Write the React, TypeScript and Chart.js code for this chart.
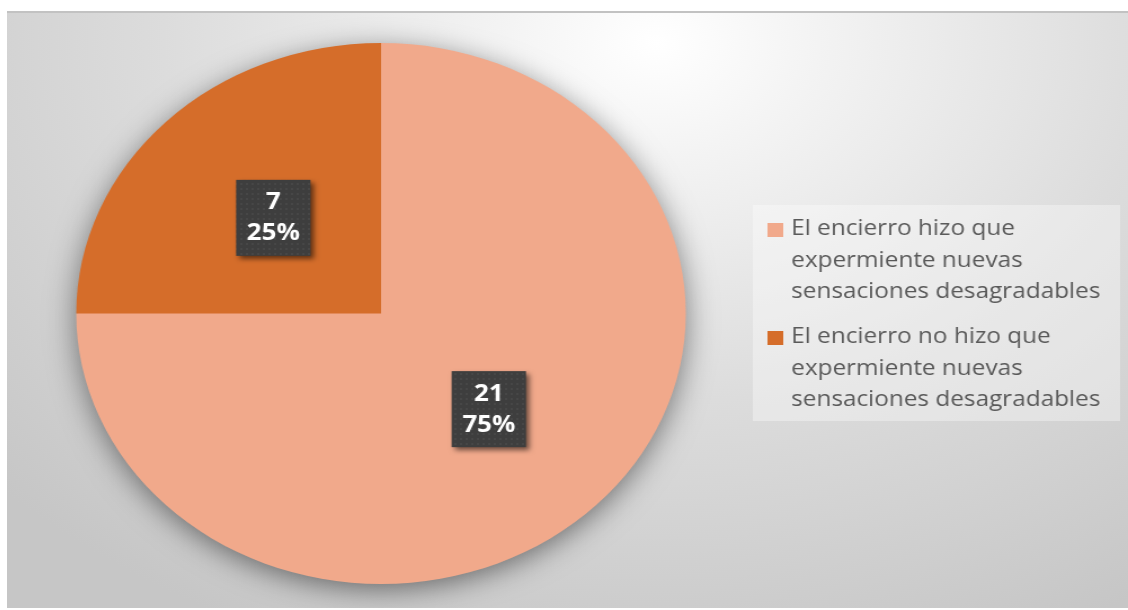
import React, { useEffect, useRef } from "react";
import { Chart, registerables } from "chart.js";
Chart.register(...registerables);

const categories: string[][] = [
  ["El encierro hizo que", "expermiente nuevas", "sensaciones desagradables"],
  ["El encierro no hizo que", "expermiente nuevas", "sensaciones desagradables"],
];
const values: number[] = [21, 7];
const sliceColors: string[] = ["#F1A98B", "#D56D2A"];

const W = 995;
const H = 597;
const OUTER_W = 1121;
const STRETCH = OUTER_W / W;

function makePattern(ctx: CanvasRenderingContext2D) {
  const c = document.createElement("canvas");
  c.width = 5;
  c.height = 5;
  const p = c.getContext("2d")!;
  p.fillStyle = "#3e3e3e";
  p.fillRect(0, 0, 5, 5);
  p.fillStyle = "#474747";
  p.fillRect(2, 2, 2, 2);
  return ctx.createPattern(c, "repeat") || "#404040";
}

const shadowPlugin = {
  id: "pieShadow",
  beforeDatasetsDraw(chart: any) {
    const arc = chart.getDatasetMeta(0).data[0];
    if (!arc) return;
    const { ctx } = chart;
    ctx.save();
    ctx.shadowColor = "rgba(0,0,0,0.5)";
    ctx.shadowBlur = 28;
    ctx.shadowOffsetY = 6;
    ctx.fillStyle = sliceColors[0];
    ctx.beginPath();
    ctx.arc(arc.x, arc.y, arc.outerRadius - 1, 0, Math.PI * 2);
    ctx.fill();
    ctx.restore();
  },
};

const labelPlugin = {
  id: "boxLabels",
  afterDatasetsDraw(chart: any) {
    const { ctx } = chart;
    const meta = chart.getDatasetMeta(0);
    const data = chart.data.datasets[0].data as number[];
    const total = data.reduce((a, b) => a + b, 0);
    const pattern = makePattern(ctx);
    meta.data.forEach((arc: any, i: number) => {
      const pos = arc.tooltipPosition();
      const bw = 66;
      const bh = 76;
      ctx.save();
      ctx.shadowColor = "rgba(0,0,0,0.55)";
      ctx.shadowBlur = 5;
      ctx.shadowOffsetX = 3;
      ctx.shadowOffsetY = 3;
      ctx.fillStyle = pattern;
      ctx.fillRect(pos.x - bw / 2, pos.y - bh / 2, bw, bh);
      ctx.restore();
      ctx.save();
      ctx.fillStyle = "#ffffff";
      ctx.font = "bold 23px 'Open Sans'";
      ctx.textAlign = "center";
      ctx.textBaseline = "middle";
      const pct = Math.round((data[i] / total) * 100) + "%";
      ctx.fillText(String(data[i]), pos.x, pos.y - 15);
      ctx.fillText(pct, pos.x, pos.y + 16);
      ctx.restore();
    });
  },
};

const legendPlugin = {
  id: "customLegend",
  afterDraw(chart: any) {
    const { ctx } = chart;
    const labels = chart.data.labels as string[][];
    const colors = chart.data.datasets[0].backgroundColor as string[];
    ctx.save();
    ctx.fillStyle = "rgba(255,255,255,0.35)";
    ctx.fillRect(662, 194, 326, 216);
    ctx.font = "21.6px 'Open Sans'";
    ctx.textBaseline = "middle";
    ctx.textAlign = "left";
    const startY = [218, 326];
    labels.forEach((lines, i) => {
      const y0 = startY[i];
      ctx.fillStyle = colors[i];
      ctx.fillRect(675, y0 - 6, 14, 14);
      ctx.fillStyle = "#595959";
      lines.forEach((ln, j) => {
        ctx.fillText(ln, 696, y0 + j * 31.5);
      });
    });
    ctx.restore();
  },
};

export default function App() {
  const ref = useRef<HTMLCanvasElement | null>(null);
  useEffect(() => {
    if (!ref.current) return;
    const chart = new Chart(ref.current, {
      type: "pie",
      data: {
        labels: categories as any,
        datasets: [
          {
            data: values,
            backgroundColor: sliceColors,
            borderWidth: 0,
          },
        ],
      },
      options: {
        responsive: false,
        animation: false,
        layout: { padding: { left: 61.5, right: 392.5, top: 32, bottom: 24 } },
        plugins: {
          legend: { display: false },
          tooltip: { enabled: false },
        },
      },
      plugins: [shadowPlugin, labelPlugin, legendPlugin],
    });
    return () => chart.destroy();
  }, []);

  return (
    <div
      style={{
        position: "fixed",
        left: 7,
        top: 11,
        width: OUTER_W,
        height: H,
        overflow: "hidden",
        borderTop: "2px solid #c2c2c2",
        boxSizing: "border-box",
        background:
          "radial-gradient(ellipse 80% 110% at 58% 5%, #ffffff 0%, #f3f3f3 18%, #dcdcdc 55%, #c6c6c6 100%)",
      }}
    >
      <div
        style={{
          position: "absolute",
          left: 0,
          top: -2,
          width: W,
          height: H,
          transform: `scaleX(${STRETCH})`,
          transformOrigin: "0 0",
        }}
      >
        <canvas ref={ref} width={W} height={H} style={{ display: "block" }} />
      </div>
    </div>
  );
}
